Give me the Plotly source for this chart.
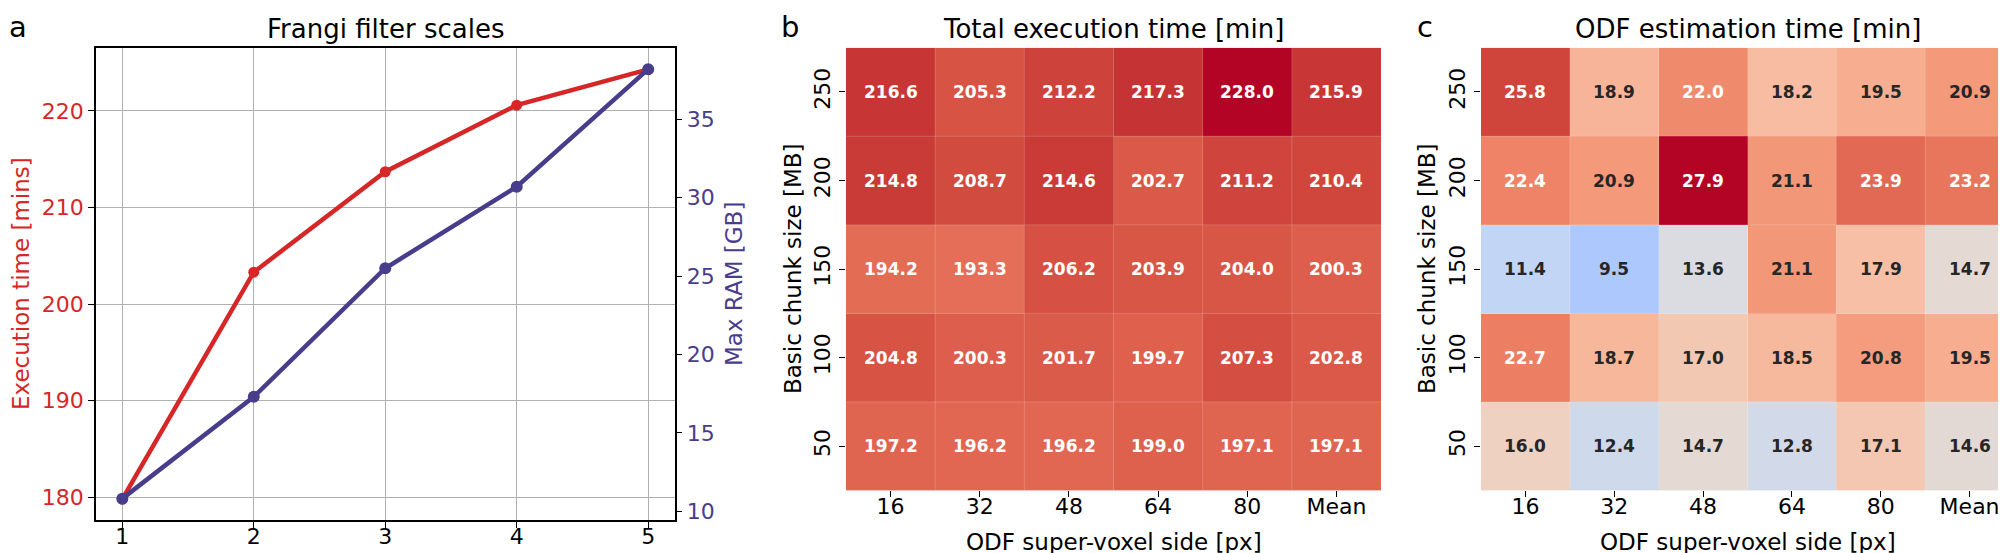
import plotly.graph_objects as go

# ---------------- data ----------------
frangi_scales = [1, 2, 3, 4, 5]
exec_time_mins = [179.8, 203.3, 213.7, 220.6, 224.3]
max_ram_gb = [10.8, 17.3, 25.5, 30.7, 38.2]

supervoxel_labels = ["16", "32", "48", "64", "80", "Mean"]
chunk_labels = ["250", "200", "150", "100", "50"]

total_exec = [
    [216.6, 205.3, 212.2, 217.3, 228.0, 215.9],
    [214.8, 208.7, 214.6, 202.7, 211.2, 210.4],
    [194.2, 193.3, 206.2, 203.9, 204.0, 200.3],
    [204.8, 200.3, 201.7, 199.7, 207.3, 202.8],
    [197.2, 196.2, 196.2, 199.0, 197.1, 197.1],
]
odf_time = [
    [25.8, 18.9, 22.0, 18.2, 19.5, 20.9],
    [22.4, 20.9, 27.9, 21.1, 23.9, 23.2],
    [11.4, 9.5, 13.6, 21.1, 17.9, 14.7],
    [22.7, 18.7, 17.0, 18.5, 20.8, 19.5],
    [16.0, 12.4, 14.7, 12.8, 17.1, 14.6],
]

# ---------------- coolwarm colormap ----------------
_pos = [i / 32 for i in range(33)]
_r = [0.2298057, 0.26623388, 0.30386891, 0.342804478, 0.38301334, 0.424369608, 0.46666708,
      0.509635204, 0.552953156, 0.596262162, 0.639176211, 0.681291281, 0.722193294, 0.761464949,
      0.798691636, 0.833466556, 0.865395197, 0.897787179, 0.924127593, 0.944468518, 0.958852946,
      0.96732803, 0.969954137, 0.966811177, 0.958003065, 0.943660866, 0.923944917, 0.89904617,
      0.869186849, 0.834620542, 0.795631745, 0.752534934, 0.705673158]
_g = [0.298717966, 0.353094838, 0.406535296, 0.458757618, 0.50941904, 0.558148092, 0.604562568,
      0.648280772, 0.688929332, 0.726149107, 0.759599947, 0.788964712, 0.813952739, 0.834302879,
      0.849786142, 0.860207984, 0.86541021, 0.848937047, 0.827384882, 0.800927443, 0.769767752,
      0.734132809, 0.694266682, 0.650421156, 0.602842431, 0.551750968, 0.49730856, 0.439559467,
      0.378313092, 0.312874446, 0.24128379, 0.157246067, 0.01555616]
_b = [0.753683153, 0.801466763, 0.84495867, 0.883725899, 0.917387822, 0.945619588, 0.968154911,
      0.98478814, 0.995375608, 0.999836203, 0.998151185, 0.990363227, 0.976574709, 0.956945269,
      0.931688648, 0.901068838, 0.865395561, 0.820880546, 0.774508472, 0.726736146, 0.678007945,
      0.628751763, 0.579375448, 0.530263762, 0.481775914, 0.434243684, 0.387970225, 0.343229596,
      0.300267182, 0.259301199, 0.220525627, 0.184115123, 0.150232812]
coolwarm = [[p, f"rgb({round(r*255)},{round(g*255)},{round(b*255)})"] for p, r, g, b in zip(_pos, _r, _g, _b)]


def cmap(t):
    t = min(max(t, 0.0), 1.0)
    i = min(int(t * 32), 31)
    f = (t - _pos[i]) * 32
    return tuple(c[i] + (c[i + 1] - c[i]) * f for c in (_r, _g, _b))


def text_color(t):
    def lin(c):
        return c / 12.92 if c <= 0.03928 else ((c + 0.055) / 1.055) ** 2.4
    r, g, b = cmap(t)
    lum = 0.2126 * lin(r) + 0.7152 * lin(g) + 0.0722 * lin(b)
    return "#262626" if lum > 0.408 else "white"


RED = "#d62728"
BLUE = "#483d8b"
FONT = "DejaVu Sans"
W, H = 2006, 553


def px(x):
    return x / W


def py(y):
    return 1 - y / H


fig = go.Figure()

# ---------------- panel a ----------------
fig.add_trace(go.Scatter(x=frangi_scales, y=exec_time_mins, mode="lines+markers",
                         line=dict(color=RED, width=4.5), marker=dict(color=RED, size=11),
                         xaxis="x", yaxis="y", showlegend=False))
fig.add_trace(go.Scatter(x=frangi_scales, y=max_ram_gb, mode="lines+markers",
                         line=dict(color=BLUE, width=4.5), marker=dict(color=BLUE, size=12),
                         xaxis="x", yaxis="y2", showlegend=False))

# ---------------- heatmaps ----------------
dom_b = [px(838), px(1373)]
dom_c = [px(1473), 1.0]
hm_y = [py(486), py(40)]

panels = [("x2", "y3", total_exec, dom_b), ("x3", "y4", odf_time, dom_c)]
annotations = []
shapes = []
for xa, ya, z, dom in panels:
    zmax = max(max(r) for r in z)
    fig.add_trace(go.Heatmap(z=z, x=supervoxel_labels, y=chunk_labels, colorscale=coolwarm,
                             zmin=0, zmax=zmax, showscale=False, xaxis=xa, yaxis=ya,
                             hoverinfo="skip"))
    for i, row in enumerate(z):
        for j, v in enumerate(row):
            annotations.append(dict(x=j, y=i, xref=xa, yref=ya,
                                    text=f"<b>{v:.1f}</b>", showarrow=False,
                                    font=dict(family=FONT, size=17, color=text_color(v / zmax))))
    ncol, nrow = len(supervoxel_labels), len(chunk_labels)
    for j in range(1, ncol):
        shapes.append(dict(type="line", xref=xa, yref=ya, x0=j - 0.5, x1=j - 0.5, y0=-0.5, y1=nrow - 0.5,
                           line=dict(color="rgba(255,255,255,0.18)", width=1), layer="above"))
    for i in range(1, nrow):
        shapes.append(dict(type="line", xref=xa, yref=ya, x0=-0.5, x1=ncol - 0.5, y0=i - 0.5, y1=i - 0.5,
                           line=dict(color="rgba(255,255,255,0.18)", width=1), layer="above"))

tick_font = dict(family=FONT, size=22, color="black")

layout = dict(
    width=W, height=H, margin=dict(l=0, r=0, t=0, b=0),
    paper_bgcolor="white", plot_bgcolor="white",
    font=dict(family=FONT, color="black"),
    xaxis=dict(domain=[px(88), px(666.5)], range=[0.8, 5.2], tickvals=frangi_scales,
               showgrid=True, gridcolor="#b0b0b0", gridwidth=1,
               showline=True, linecolor="black", linewidth=1.5, mirror=True,
               ticks="outside", ticklen=6, tickcolor="black", tickfont=tick_font, zeroline=False,
               ticklabelstandoff=-10, anchor="y"),
    yaxis=dict(domain=[py(516), py(40)], range=[177.6, 226.55], tickvals=[180, 190, 200, 210, 220],
               showgrid=True, gridcolor="#b0b0b0", gridwidth=1,
               showline=True, linecolor="black", linewidth=1.5,
               ticks="outside", ticklen=6, tickcolor="black",
               tickfont=dict(family=FONT, size=22, color=RED), zeroline=False, anchor="x"),
    yaxis2=dict(overlaying="y", side="right", range=[9.42, 39.57], tickvals=[10, 15, 20, 25, 30, 35],
                showgrid=False, showline=True, linecolor="black", linewidth=1.5,
                ticks="outside", ticklen=6, tickcolor="black",
                tickfont=dict(family=FONT, size=22, color=BLUE), zeroline=False, anchor="x"),
    xaxis2=dict(domain=dom_b, type="category", range=[-0.5, 5.5], showgrid=False, showline=False,
                ticks="outside", ticklen=6, tickcolor="black", tickfont=tick_font, anchor="y3",
                ticklabelstandoff=-10, zeroline=False),
    yaxis3=dict(domain=hm_y, type="category", range=[4.5, -0.5], showgrid=False, showline=False,
                ticks="outside", ticklen=6, tickcolor="black", tickfont=tick_font, tickangle=-90,
                anchor="x2", zeroline=False),
    xaxis3=dict(domain=dom_c, type="category", range=[-0.5, 5.5], showgrid=False, showline=False,
                ticks="outside", ticklen=6, tickcolor="black", tickfont=tick_font, anchor="y4",
                ticklabelstandoff=-10, zeroline=False),
    yaxis4=dict(domain=hm_y, type="category", range=[4.5, -0.5], showgrid=False, showline=False,
                ticks="outside", ticklen=6, tickcolor="black", tickfont=tick_font, tickangle=-90,
                anchor="x3", zeroline=False),
)


def txt(text, x, y, size, color="black", angle=0):
    return dict(text=text, x=px(x), y=py(y), xref="paper", yref="paper", showarrow=False,
                xanchor="center", yanchor="middle", textangle=angle,
                font=dict(family=FONT, size=size, color=color))


annotations += [
    txt("a", 10, 19, 29),
    txt("b", 782, 19, 29),
    txt("c", 1417, 19, 29),
    txt("Frangi filter scales", 377, 21, 26),
    txt("Total execution time [min]", 1105.5, 21, 26),
    txt("ODF estimation time [min]", 1739.5, 21, 26),
    txt("Execution time [mins]", 13, 278, 23, RED, -90),
    txt("Max RAM [GB]", 726, 278, 23, BLUE, -90),
    txt("Basic chunk size [MB]", 785, 263, 23, "black", -90),
    txt("Basic chunk size [MB]", 1419, 263, 23, "black", -90),
    txt("ODF super-voxel side [px]", 1105.5, 538, 23),
    txt("ODF super-voxel side [px]", 1739.5, 538, 23),
]
layout["annotations"] = annotations
layout["shapes"] = shapes
fig.update_layout(**layout)

fig.write_html("out.html")
